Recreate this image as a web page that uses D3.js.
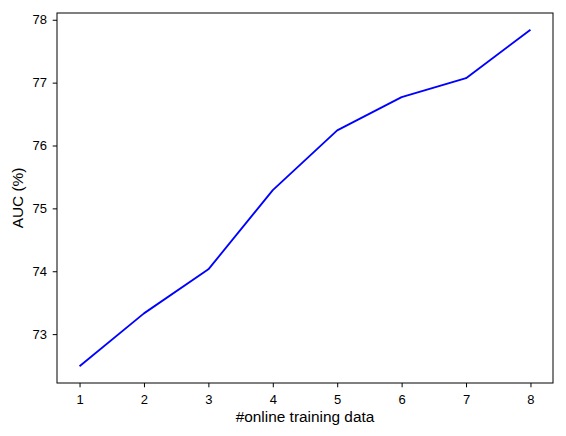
<!DOCTYPE html>
<html>
<head>
<meta charset="utf-8">
<script src="https://cdn.jsdelivr.net/npm/d3@7"></script>
<style>
  body { margin: 0; background: #fff; }
  svg { display: block; font-family: "Liberation Sans", Arial, sans-serif; }
  .axis path, .axis line { stroke: #000; stroke-width: 1; }
  .axis text { font-size: 13px; fill: #000; }
  .label { font-size: 15.4px; fill: #000; }
</style>
</head>
<body>
<svg class="chart"></svg>
<script>
var counts = [1, 2, 3, 4, 5, 6, 7, 8];
var auc = [72.49, 73.33, 74.03, 75.29, 76.24, 76.77, 77.07, 77.84];
var xTicks = [1, 2, 3, 4, 5, 6, 7, 8];
var yTicks = [73, 74, 75, 76, 77, 78];

var W = 566, H = 436,
    margin = {left: 57, top: 13, right: 13, bottom: 53},
    width = W - margin.left - margin.right,
    height = H - margin.top - margin.bottom;

// matplotlib style 5% padding around data
var xPad = (d3.max(counts) - d3.min(counts)) * 0.05,
    yPad = (d3.max(auc) - d3.min(auc)) * 0.05;

var x = d3.scaleLinear()
    .domain([d3.min(counts) - xPad, d3.max(counts) + xPad])
    .range([0, width]);

var y = d3.scaleLinear()
    .domain([d3.min(auc) - yPad, d3.max(auc) + yPad])
    .range([height, 0]);

var svg = d3.select(".chart")
    .attr("width", W)
    .attr("height", H)
  .append("g")
    .attr("transform", "translate(" + margin.left + "," + margin.top + ")");

svg.append("g")
    .attr("class", "x axis")
    .attr("transform", "translate(0," + height + ")")
    .call(d3.axisBottom(x).tickValues(xTicks).tickFormat(d3.format("d")).tickSizeOuter(0).tickSize(4.3))
    .call(function(g) { g.select(".domain").remove(); })
    .selectAll("text")
      .attr("y", 11.5)
      .attr("dy", "0.71em");

svg.append("g")
    .attr("class", "y axis")
    .call(d3.axisLeft(y).tickValues(yTicks).tickFormat(d3.format("d")).tickSizeOuter(0).tickSize(4.3).tickPadding(5.8))
    .call(function(g) { g.select(".domain").remove(); });

// axes frame
svg.append("rect")
    .attr("width", width)
    .attr("height", height)
    .attr("fill", "none")
    .attr("stroke", "#000")
    .attr("stroke-width", 1);

var line = d3.line()
    .x(function(d, i) { return x(counts[i]); })
    .y(function(d) { return y(d); });

svg.append("path")
    .datum(auc)
    .attr("fill", "none")
    .attr("stroke", "#0000ff")
    .attr("stroke-width", 1.85)
    .attr("stroke-linejoin", "round")
    .attr("d", line);

svg.append("text")
    .attr("class", "label")
    .attr("x", width / 2)
    .attr("y", height + 38.5)
    .style("text-anchor", "middle")
    .text("#online training data");

svg.append("text")
    .attr("class", "label")
    .attr("transform", "rotate(-90)")
    .attr("x", -height / 2)
    .attr("y", -34)
    .style("text-anchor", "middle")
    .text("AUC (%)");
</script>
</body>
</html>
